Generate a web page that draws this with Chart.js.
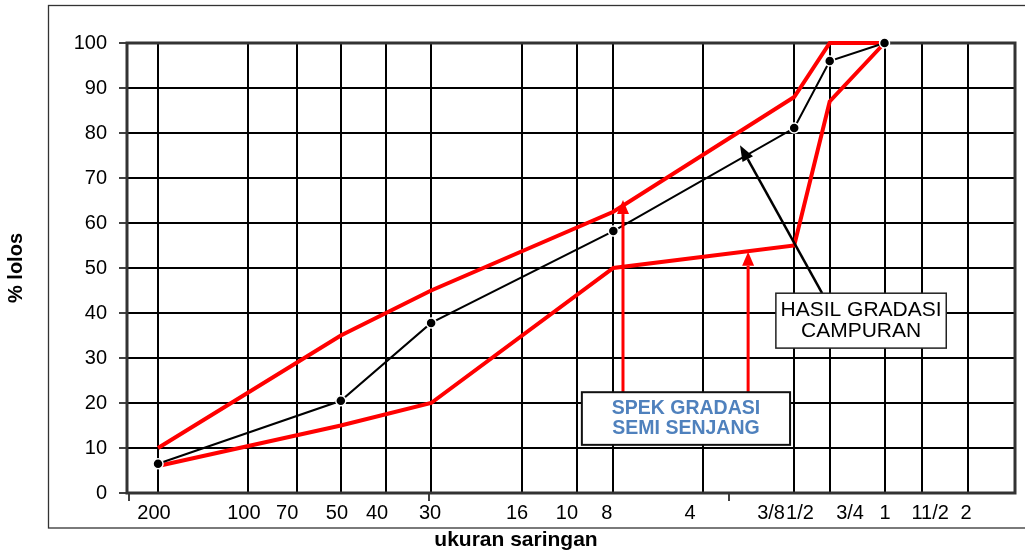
<!DOCTYPE html>
<html>
<head>
<meta charset="utf-8">
<script src="https://cdn.jsdelivr.net/npm/chart.js@4.4.1/dist/chart.umd.min.js"></script>
<style>
  html, body { margin: 0; background: #fff; }
</style>
</head>
<body>
<canvas id="gradasi" width="1025" height="552"></canvas>
<script>
// ukuran saringan (mm) where the vertical grid lines sit
const gridSizes = [0.075, 0.15, 0.218, 0.305, 0.43, 0.61, 1.225, 1.87, 2.47, 4.9, 9.9, 13, 19.8, 26.5, 37.5];
// tick labels and where they are printed (mm)
const tickLabels = ['200', '100', '70', '50', '40', '30', '16', '10', '8', '4', '3/8', '1/2', '3/4', '1', '11/2', '2'];
const labelSizes = [0.0727, 0.145, 0.202, 0.296, 0.403, 0.605, 1.18, 1.73, 2.35, 4.45, 8.29, 10.35, 15.2, 19.9, 28.1, 37.0];
const markSizes = [0.06, 0.6, 6];

// sieves used by the three curves
const pointSizes = [0.075, 0.305, 0.61, 2.47, 9.9, 13, 19.8];
const campuran = [6.5, 20.5, 37.8, 58.2, 81.1, 96, 100];
const spekAtas = [10, 35, 45, 62.5, 88, 100, 100];
const spekBawah = [6, 15, 20, 50, 55, 87, 100];

const FONT = "'Liberation Sans', Arial, sans-serif";

const xTicks = [
  ...gridSizes.map(v => ({ value: v, kind: 'grid' })),
  ...labelSizes.map((v, i) => ({ value: v, kind: 'label', text: tickLabels[i] })),
  ...markSizes.map(v => ({ value: v, kind: 'mark' })),
].sort((a, b) => a.value - b.value);

const toPoints = (vals) => pointSizes.map((x, i) => ({ x, y: vals[i] }));

// outer frame + plot border
const framePlugin = {
  id: 'frame',
  beforeDraw(chart) {
    const ctx = chart.ctx;
    ctx.save();
    ctx.strokeStyle = '#333';
    ctx.lineWidth = 1.3;
    ctx.strokeRect(48.5, 5.5, 1000, 522.5);
    ctx.restore();
  },
  beforeDatasetsDraw(chart) {
    const { ctx, chartArea: a } = chart;
    ctx.save();
    ctx.strokeStyle = '#333';
    ctx.lineWidth = 3;
    ctx.strokeRect(a.left, a.top, a.right - a.left, a.bottom - a.top);
    ctx.restore();
  }
};

function arrow(ctx, x1, y1, x2, y2, color, width, headLen, headW) {
  const ang = Math.atan2(y2 - y1, x2 - x1);
  const bx = x2 - headLen * Math.cos(ang);
  const by = y2 - headLen * Math.sin(ang);
  ctx.strokeStyle = color;
  ctx.fillStyle = color;
  ctx.lineWidth = width;
  ctx.beginPath();
  ctx.moveTo(x1, y1);
  ctx.lineTo(bx, by);
  ctx.stroke();
  ctx.beginPath();
  ctx.moveTo(x2, y2);
  ctx.lineTo(bx + headW / 2 * Math.sin(ang), by - headW / 2 * Math.cos(ang));
  ctx.lineTo(bx - headW / 2 * Math.sin(ang), by + headW / 2 * Math.cos(ang));
  ctx.closePath();
  ctx.fill();
}

const notePlugin = {
  id: 'notes',
  afterDatasetsDraw(chart) {
    const ctx = chart.ctx;
    const px = v => chart.scales.x.getPixelForValue(v);
    const py = v => chart.scales.y.getPixelForValue(v);
    ctx.save();

    // HASIL GRADASI CAMPURAN
    arrow(ctx, px(12.26), py(44.4), px(6.53), py(77.3), '#000', 2.5, 16, 12);
    let l = px(8.6), r = px(31.8), t = py(44.4), b = py(32.2);
    ctx.fillStyle = '#fff';
    ctx.fillRect(l, t, r - l, b - t);
    ctx.strokeStyle = '#222';
    ctx.lineWidth = 1.5;
    ctx.strokeRect(l, t, r - l, b - t);
    ctx.fillStyle = '#000';
    ctx.font = '21px ' + FONT;
    ctx.textAlign = 'center';
    ctx.textBaseline = 'middle';
    let cx = (l + r) / 2, cy = (t + b) / 2;
    ctx.fillText('HASIL GRADASI', cx, cy - 10.5);
    ctx.fillText('CAMPURAN', cx, cy + 10.5);

    // SPEK GRADASI SEMI SENJANG
    arrow(ctx, px(2.66), py(22.4), px(2.66), py(65.1), '#ff0000', 3, 14, 12);
    arrow(ctx, px(6.95), py(22.4), px(6.95), py(53.6), '#ff0000', 3, 14, 12);
    l = px(1.94); r = px(9.59); t = py(22.4); b = py(10.7);
    ctx.fillStyle = '#fff';
    ctx.fillRect(l, t, r - l, b - t);
    ctx.strokeStyle = '#111';
    ctx.lineWidth = 2;
    ctx.strokeRect(l, t, r - l, b - t);
    ctx.fillStyle = '#4f81bd';
    ctx.font = 'bold 19.5px ' + FONT;
    cx = (l + r) / 2; cy = (t + b) / 2;
    ctx.fillText('SPEK GRADASI', cx, cy - 10);
    ctx.fillText('SEMI SENJANG', cx, cy + 10);

    ctx.restore();
  }
};

new Chart(document.getElementById('gradasi'), {
  type: 'line',
  data: {
    datasets: [
      {
        label: 'Hasil gradasi campuran',
        data: toPoints(campuran),
        borderColor: '#000',
        borderWidth: 2,
        pointRadius: 5,
        pointBackgroundColor: '#000',
        pointBorderColor: '#fff',
        pointBorderWidth: 1.5,
        clip: false
      },
      {
        label: 'Spek atas',
        data: toPoints(spekAtas),
        borderColor: '#ff0000',
        borderWidth: 4,
        pointRadius: 0,
        clip: false
      },
      {
        label: 'Spek bawah',
        data: toPoints(spekBawah),
        borderColor: '#ff0000',
        borderWidth: 4,
        pointRadius: 0,
        clip: false
      }
    ]
  },
  options: {
    responsive: false,
    animation: false,
    events: [],
    layout: { padding: { top: 43, left: 17, right: 10, bottom: 0 } },
    elements: { line: { tension: 0 } },
    plugins: {
      legend: { display: false },
      tooltip: { enabled: false },
      title: {
        display: true,
        position: 'bottom',
        text: 'ukuran saringan',
        color: '#000',
        font: { family: FONT, size: 21, weight: 'bold', lineHeight: 1.1 },
        padding: { top: 0, bottom: 0 }
      }
    },
    scales: {
      x: {
        type: 'logarithmic',
        min: 0.0591,
        max: 53.9,
        afterBuildTicks: (scale) => { scale.ticks = xTicks.map(t => ({ ...t })); },
        afterFit: (scale) => { scale.height = 35.9; },
        border: { display: false },
        grid: {
          lineWidth: 2,
          color: (c) => (c.tick && c.tick.kind === 'grid') ? '#000' : 'rgba(0,0,0,0)',
          tickColor: (c) => (c.tick && c.tick.kind === 'mark') ? '#000' : 'rgba(0,0,0,0)',
          tickLength: 8,
          tickWidth: 1.5
        },
        ticks: {
          autoSkip: false,
          maxRotation: 0,
          minRotation: 0,
          padding: 0,
          color: '#000',
          font: { family: FONT, size: 20 },
          callback: (value, index, ticks) => ticks[index].kind === 'label' ? ticks[index].text : ''
        }
      },
      y: {
        min: 0,
        max: 100,
        afterFit: (scale) => { scale.width = 110; },
        border: { display: false },
        grid: {
          lineWidth: 2,
          color: '#000',
          tickColor: (c) => (c.tick && c.tick.value % 10 === 0) ? '#000' : 'rgba(0,0,0,0)',
          tickLength: 8,
          tickWidth: 1.5
        },
        ticks: {
          stepSize: 5,
          padding: 12,
          color: '#000',
          font: { family: FONT, size: 20 },
          callback: (v) => v % 10 === 0 ? v : ''
        },
        title: {
          display: true,
          text: '% lolos',
          color: '#000',
          font: { family: FONT, size: 20, weight: 'bold', lineHeight: 1.2 },
          padding: { top: -13, bottom: 0 }
        }
      }
    }
  },
  plugins: [framePlugin, notePlugin]
});
</script>
</body>
</html>
